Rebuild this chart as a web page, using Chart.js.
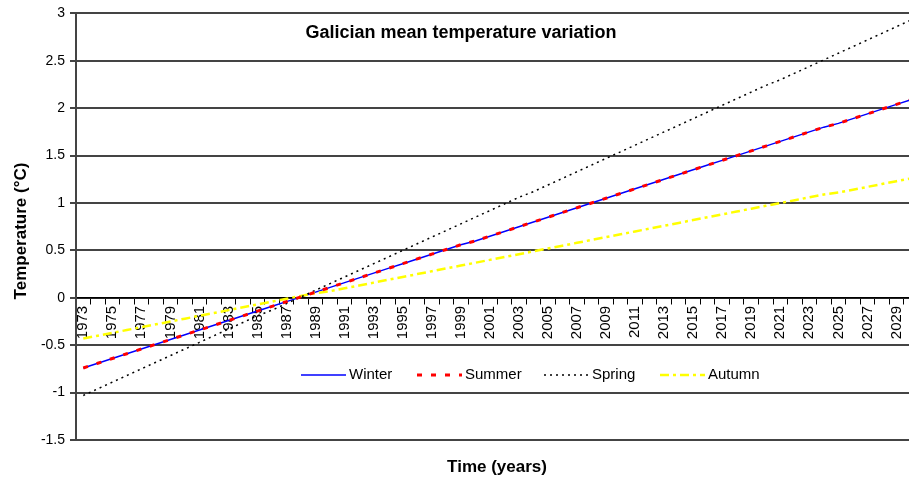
<!DOCTYPE html>
<html>
<head>
<meta charset="utf-8">
<script src="https://cdn.jsdelivr.net/npm/chart.js@4.4.0/dist/chart.umd.min.js"></script>
<style>
    html, body { margin: 0; padding: 0; background: #fff; }
    #wrap { width: 909px; height: 482px; overflow: hidden; }
    canvas { display: block; }
</style>
</head>
<body>
<div id="wrap"><canvas id="chart" width="931" height="482"></canvas></div>
<script>
// Chart data
const TITLE = 'Galician mean temperature variation';
const X_TITLE = 'Time (years)';
const Y_TITLE = 'Temperature (°C)';

const years = [
    '1973', '1974', '1975', '1976', '1977', '1978', '1979', '1980', '1981', '1982',
    '1983', '1984', '1985', '1986', '1987', '1988', '1989', '1990', '1991', '1992',
    '1993', '1994', '1995', '1996', '1997', '1998', '1999', '2000', '2001', '2002',
    '2003', '2004', '2005', '2006', '2007', '2008', '2009', '2010', '2011', '2012',
    '2013', '2014', '2015', '2016', '2017', '2018', '2019', '2020', '2021', '2022',
    '2023', '2024', '2025', '2026', '2027', '2028', '2029', '2030'
];

const winter = [
    -0.74, -0.69, -0.64, -0.59, -0.54, -0.49, -0.44, -0.39, -0.34, -0.29,
    -0.24, -0.19, -0.14, -0.09, -0.04, 0.01, 0.06, 0.11, 0.16, 0.21,
    0.26, 0.31, 0.36, 0.41, 0.46, 0.51, 0.56, 0.60, 0.65, 0.70,
    0.75, 0.80, 0.85, 0.90, 0.95, 1.00, 1.05, 1.10, 1.15, 1.20,
    1.25, 1.30, 1.35, 1.40, 1.45, 1.50, 1.55, 1.60, 1.65, 1.70,
    1.75, 1.80, 1.84, 1.89, 1.94, 1.99, 2.04, 2.09
];

const summer = [
    -0.74, -0.69, -0.64, -0.59, -0.54, -0.49, -0.44, -0.39, -0.34, -0.29,
    -0.24, -0.19, -0.14, -0.09, -0.04, 0.01, 0.06, 0.11, 0.16, 0.21,
    0.26, 0.31, 0.36, 0.41, 0.46, 0.51, 0.56, 0.60, 0.65, 0.70,
    0.75, 0.80, 0.85, 0.90, 0.95, 1.00, 1.05, 1.10, 1.15, 1.20,
    1.25, 1.30, 1.35, 1.40, 1.45, 1.50, 1.55, 1.60, 1.65, 1.70,
    1.75, 1.80, 1.84, 1.89, 1.94, 1.99, 2.04, 2.09
];

const spring = [
    -1.03, -0.96, -0.89, -0.82, -0.75, -0.68, -0.61, -0.54, -0.47, -0.40,
    -0.33, -0.26, -0.19, -0.13, -0.06, 0.01, 0.08, 0.15, 0.22, 0.29,
    0.36, 0.43, 0.50, 0.57, 0.64, 0.71, 0.78, 0.85, 0.92, 0.99,
    1.06, 1.12, 1.19, 1.26, 1.33, 1.40, 1.47, 1.54, 1.61, 1.68,
    1.75, 1.82, 1.89, 1.96, 2.03, 2.10, 2.17, 2.24, 2.30, 2.37,
    2.44, 2.51, 2.58, 2.65, 2.72, 2.79, 2.86, 2.93
];

const autumn = [
    -0.43, -0.40, -0.37, -0.34, -0.31, -0.28, -0.25, -0.22, -0.19, -0.16,
    -0.13, -0.10, -0.07, -0.04, -0.01, 0.02, 0.05, 0.07, 0.10, 0.13,
    0.16, 0.19, 0.22, 0.25, 0.28, 0.31, 0.34, 0.37, 0.40, 0.43,
    0.46, 0.49, 0.52, 0.55, 0.58, 0.61, 0.64, 0.67, 0.70, 0.73,
    0.76, 0.79, 0.82, 0.85, 0.88, 0.91, 0.94, 0.97, 1.00, 1.03,
    1.06, 1.09, 1.11, 1.14, 1.17, 1.20, 1.23, 1.26
];

const FONT = '"Liberation Sans", Arial, sans-serif';

// Titles are drawn by hand: the x axis sits at y = 0, so it reserves no room
const chartText = {
    id: 'chartText',
    afterDraw(chart) {
        const ctx = chart.ctx;
        ctx.save();
        ctx.fillStyle = '#000';
        ctx.textAlign = 'center';
        ctx.textBaseline = 'alphabetic';
        ctx.font = 'bold 18px ' + FONT;
        ctx.fillText(TITLE, 461, 38);
        ctx.font = 'bold 17px ' + FONT;
        ctx.fillText(X_TITLE, 497, 472);
        ctx.translate(26, 231);
        ctx.rotate(-Math.PI / 2);
        ctx.fillText(Y_TITLE, 0, 0);
        ctx.restore();
    }
};

// Legend inside the plot, one row
const insideLegend = {
    id: 'insideLegend',
    afterDraw(chart) {
        const ctx = chart.ctx;
        const starts = [301, 417, 544, 660];
        const y = 375;
        ctx.save();
        chart.data.datasets.forEach((ds, i) => {
            const x = starts[i];
            ctx.beginPath();
            ctx.setLineDash(ds.borderDash || []);
            ctx.lineCap = 'butt';
            ctx.strokeStyle = ds.borderColor;
            ctx.lineWidth = ds.borderWidth;
            ctx.moveTo(x, y);
            ctx.lineTo(x + 45, y);
            ctx.stroke();
            ctx.setLineDash([]);
            ctx.fillStyle = '#000';
            ctx.font = '15px ' + FONT;
            ctx.textAlign = 'left';
            ctx.textBaseline = 'middle';
            ctx.fillText(ds.label, x + 48, y);
        });
        ctx.restore();
    }
};

new Chart(document.getElementById('chart').getContext('2d'), {
    type: 'line',
    data: {
        labels: years,
        datasets: [
            {
                label: 'Winter',
                data: winter,
                borderColor: '#0000ff',
                borderWidth: 1.5,
                order: 3
            },
            {
                label: 'Summer',
                data: summer,
                borderColor: '#ff0000',
                borderWidth: 3,
                borderDash: [5, 9],
                order: 0
            },
            {
                label: 'Spring',
                data: spring,
                borderColor: '#000000',
                borderWidth: 1.5,
                borderDash: [2, 4],
                order: 1
            },
            {
                label: 'Autumn',
                data: autumn,
                borderColor: '#ffff00',
                borderWidth: 2.5,
                borderDash: [9, 4, 3, 4],
                order: 2
            }
        ]
    },
    options: {
        responsive: false,
        animation: false,
        events: [],
        layout: { padding: { top: 13, right: 1, bottom: 42, left: 0 } },
        elements: {
            point: { radius: 0 },
            line: { tension: 0, fill: false, borderCapStyle: 'butt' }
        },
        plugins: {
            legend: { display: false },
            tooltip: { enabled: false },
            title: { display: false }
        },
        scales: {
            x: {
                type: 'category',
                position: { y: 0 },
                offset: true,
                grid: {
                    drawOnChartArea: false,
                    drawTicks: true,
                    tickLength: 6,
                    color: '#000',
                    lineWidth: 1,
                    offset: true
                },
                border: { display: true, color: '#000', width: 1.5 },
                ticks: {
                    autoSkip: false,
                    minRotation: 90,
                    maxRotation: 90,
                    padding: 2,
                    color: '#000',
                    font: { family: FONT, size: 15 },
                    callback: (v, i) => (i % 2 === 0 ? years[i] : '')
                }
            },
            y: {
                min: -1.5,
                max: 3,
                afterFit: (s) => { s.width = 76; },
                grid: {
                    color: '#444',
                    lineWidth: 2,
                    tickLength: 6
                },
                border: { display: true, color: '#444', width: 2 },
                ticks: {
                    stepSize: 0.5,
                    padding: 5,
                    color: '#000',
                    font: { family: FONT, size: 14 },
                    callback: (v) => String(v)
                }
            }
        }
    },
    plugins: [chartText, insideLegend]
});
</script>
</body>
</html>
